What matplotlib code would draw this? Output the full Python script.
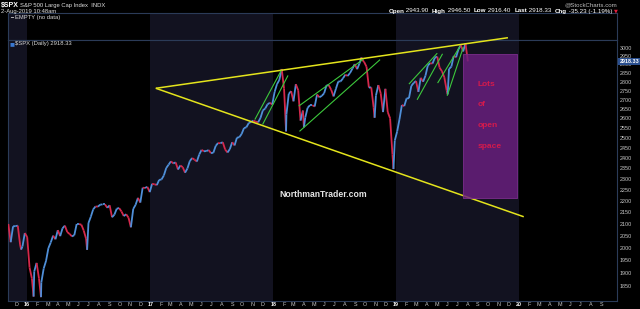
import matplotlib
matplotlib.use("Agg")
import matplotlib.pyplot as plt
import matplotlib.dates as mdates
from matplotlib.collections import LineCollection
from matplotlib.transforms import blended_transform_factory
from matplotlib.ticker import FixedLocator, NullLocator, NullFormatter
import numpy as np
import pandas as pd
import datetime as dt

plt.rcParams['font.family'] = ['Liberation Sans', 'DejaVu Sans']

# ---------------- data ----------------
week_start = "2015-11-06"
week_end = "2019-08-02"
weekly_close = [
    # 2015 (Nov 6 .. Jan 1)
    2099, 2023, 2089, 2090, 2092, 2012, 2006, 2061, 2044,
    # 2016
    1922, 1880, 1907, 1940, 1880, 1865, 1918, 1948, 1999, 2022, 2050, 2035,
    2073, 2048, 2081, 2092, 2065, 2057, 2047, 2052, 2099, 2099, 2096, 2071, 2037,
    2103, 2130, 2162, 2175, 2174, 2183, 2184, 2184, 2169, 2180, 2128, 2139, 2165, 2168,
    2153, 2133, 2141, 2126, 2085, 2164, 2182, 2213, 2192, 2259, 2258, 2263, 2239,
    # 2017
    2277, 2275, 2271, 2295, 2297, 2316, 2351, 2367, 2383, 2373, 2378, 2344, 2363,
    2355, 2329, 2349, 2384, 2399, 2391, 2382, 2416, 2439, 2432, 2433, 2438, 2423,
    2425, 2459, 2473, 2472, 2477, 2441, 2426, 2443, 2477, 2461, 2500, 2502, 2519,
    2549, 2553, 2575, 2581, 2588, 2582, 2579, 2602, 2642, 2652, 2675, 2683, 2674,
    # 2018
    2743, 2786, 2810, 2873, 2762, 2620, 2732, 2747, 2691, 2786, 2752, 2588, 2641,
    2604, 2656, 2670, 2670, 2663, 2728, 2713, 2721, 2735, 2779, 2780, 2755, 2718,
    2760, 2801, 2802, 2819, 2840, 2833, 2850, 2875, 2902, 2872, 2905, 2930, 2914,
    2886, 2767, 2768, 2659, 2723, 2781, 2736, 2633, 2760, 2633, 2600, 2417, 2486,
    # 2019
    2532, 2596, 2671, 2665, 2707, 2708, 2776, 2793, 2804, 2743, 2822, 2800, 2834,
    2893, 2907, 2905, 2940, 2946, 2881, 2860, 2826, 2752, 2873, 2887, 2950, 2942,
    2990, 3014, 2977, 3026, 2918,
]
spike_dates = ["2015-12-14", "2016-01-20", "2016-02-11", "2016-06-27",
               "2018-02-08", "2018-04-02", "2018-09-20", "2018-10-29",
               "2018-12-24", "2019-06-03"]
spike_values = [1993, 1812, 1810, 1992, 2532, 2553, 2941, 2603, 2346, 2729]
last_price = 2918.33

yticks = list(range(1850, 3001, 50))
month_letters = ["J", "F", "M", "A", "M", "J", "J", "A", "S", "O", "N", "D"]
tick_start, tick_end = "2015-12-01", "2020-09-01"
shade_years = [2015, 2017, 2019]

# wedge (yellow): apex, upper end, lower end
wedge_dates = ["2017-01-17", "2019-11-29", "2020-01-15"]
wedge_values = [2763, 3061, 2130]

# green channel lines
chan_start_dates = ["2017-11-08", "2017-12-01", "2018-03-19", "2018-03-21",
                    "2019-02-09", "2019-03-05", "2019-05-05", "2019-06-02"]
chan_start_values = [2596, 2570, 2667, 2534, 2789, 2702, 2795, 2724]
chan_end_dates = ["2018-01-24", "2018-02-13", "2018-09-25", "2018-11-13",
                  "2019-05-02", "2019-05-18", "2019-07-09", "2019-07-19"]
chan_end_values = [2862, 2833, 2930, 2926, 2964, 2960, 3006, 3000]

box_dates = ["2019-07-19", "2019-12-25"]
box_values = [2212, 2962]
note_words = ["Lots", "of", "open", "space"]
note_date = "2019-08-31"
note_values = [2787, 2673, 2563, 2458]
brand_text = "NorthmanTrader.com"
brand_date, brand_value = "2018-05-28", 2227

ohlc_parts = [("Open", "bold"), (" 2943.90  ", "normal"), ("High", "bold"),
              (" 2946.50  ", "normal"), ("Low", "bold"), (" 2916.40  ", "normal"),
              ("Last", "bold"), (" 2918.33  ", "normal"), ("Chg", "bold"),
              (" -35.23 (-1.19%)", "normal")]

# ---------------- figure ----------------
W, H = 640, 309
fig = plt.figure(figsize=(6.4, 3.09), dpi=100, facecolor='black')
def fx(px): return px / W
def fy(py): return 1 - py / H

ax_top = fig.add_axes([fx(8), fy(40.3), fx(617) - fx(8), fy(13.3) - fy(40.3)])
ax = fig.add_axes([fx(8), fy(300.7), fx(617) - fx(8), fy(40.3) - fy(300.7)])
ax.set_zorder(3)
ax_top.set_zorder(1)

frame_col = '#2b3b58'
shade_col = '#121220'
xmin = mdates.date2num(dt.datetime(2015, 11, 5))
xmax = mdates.date2num(dt.datetime(2020, 10, 18))

for a in (ax, ax_top):
    a.set_facecolor('black')
    for s in a.spines.values():
        s.set_color(frame_col)
        s.set_linewidth(0.8)
    for yr in shade_years:
        a.axvspan(mdates.date2num(dt.datetime(yr, 1, 1)),
                  mdates.date2num(dt.datetime(yr + 1, 1, 1)),
                  color=shade_col, zorder=0, lw=0)
    a.set_xlim(xmin, xmax)

ax_top.set_xticks([])
ax_top.set_yticks([])

# price series
weeks = pd.date_range(week_start, week_end, freq="W-FRI")
s = pd.Series(weekly_close, index=weeks, dtype=float)
sp = pd.Series(spike_values, index=pd.to_datetime(spike_dates), dtype=float)
s = pd.concat([s, sp]).sort_index()
xs = mdates.date2num(s.index.to_pydatetime())
ys = s.values
pts = np.column_stack([xs, ys])
segs = np.stack([pts[:-1], pts[1:]], axis=1)
up_col, dn_col = '#4f8fd8', '#d4284c'
cols = [up_col if b >= a_ else dn_col for a_, b in zip(ys[:-1], ys[1:])]
ax.set_yscale('log')
lc = LineCollection(segs, colors=cols, linewidths=1.3, zorder=3)
ax.add_collection(lc)
ax.set_ylim(1797, 3045)

# y axis on right
ax.yaxis.tick_right()
ax.yaxis.set_major_locator(FixedLocator(yticks))
ax.yaxis.set_minor_locator(NullLocator())
ax.yaxis.set_minor_formatter(NullFormatter())
ax.set_yticklabels([str(v) for v in yticks])
ax.tick_params(axis='y', length=0, pad=2, labelsize=3.9, labelcolor='#c8c8c8')

# x ticks
months = pd.date_range(tick_start, tick_end, freq="MS")
xt = mdates.date2num(months.to_pydatetime())
xl = ["%02d" % (m.year % 100) if m.month == 1 else month_letters[m.month - 1] for m in months]
ax.set_xticks(xt)
ax.set_xticklabels(xl)
ax.tick_params(axis='x', length=0, pad=1.0, labelsize=3.9, labelcolor='#c8c8c8')
for lab, m in zip(ax.get_xticklabels(), months):
    if m.month == 1:
        lab.set_fontweight('bold')
        lab.set_color('white')
ax.set_xlim(xmin, xmax)

# wedge lines
wd = mdates.date2num(pd.to_datetime(wedge_dates).to_pydatetime())
yellow = '#e4e41c'
ax.plot([wd[0], wd[1]], [wedge_values[0], wedge_values[1]], color=yellow, lw=1.1,
        zorder=4, clip_on=False, solid_capstyle='butt')
ax.plot([wd[0], wd[2]], [wedge_values[0], wedge_values[2]], color=yellow, lw=1.1,
        zorder=4, clip_on=False, solid_capstyle='butt')

# green channels
csd = mdates.date2num(pd.to_datetime(chan_start_dates).to_pydatetime())
ced = mdates.date2num(pd.to_datetime(chan_end_dates).to_pydatetime())
for x0, v0, x1, v1 in zip(csd, chan_start_values, ced, chan_end_values):
    ax.plot([x0, x1], [v0, v1], color='#3cc83c', lw=0.8, zorder=5, clip_on=False)

# purple box
bd = mdates.date2num(pd.to_datetime(box_dates).to_pydatetime())
ax.fill_between(bd, box_values[0], box_values[1], facecolor=(0.42, 0.12, 0.50, 0.82),
                edgecolor='#7b2d8c', lw=0.6, zorder=6)
nd = mdates.date2num(pd.Timestamp(note_date).to_pydatetime())
for w, v in zip(note_words, note_values):
    ax.text(nd, v, w, color='#d41a4c', fontsize=6.0, fontweight='bold',
            ha='left', va='center', zorder=7)

# brand text
bdx = mdates.date2num(pd.Timestamp(brand_date).to_pydatetime())
ax.text(bdx, brand_value, brand_text, color='#e6e6e6', fontsize=6.2,
        fontweight='bold', ha='center', va='center', zorder=7)

# last price box
trans = blended_transform_factory(ax.transAxes, ax.transData)
ax.text(1.004, last_price, "%.2f" % last_price, transform=trans, fontsize=3.9,
        color='white', fontweight='bold', ha='left', va='center', zorder=10,
        clip_on=False, bbox=dict(boxstyle='square,pad=0.2', fc='#2a4f8f', ec='none'))

# panel legends
ax_top.text(0.003, 0.86, "\u2501", transform=ax_top.transAxes, fontsize=3.5,
            color='#c8c8c8', ha='left', va='center', family=['DejaVu Sans'])
ax_top.text(0.011, 0.86, "EMPTY (no data)", transform=ax_top.transAxes,
            fontsize=4.2, color='#d8d8d8', ha='left', va='center')
ax.text(0.003, 0.988, "\u25a0", transform=ax.transAxes, fontsize=3.8,
        color='#3a78d0', ha='left', va='center', family=['DejaVu Sans'])
ax.text(0.011, 0.988, "$SPX (Daily) 2918.33", transform=ax.transAxes,
        fontsize=4.2, color='#d8d8d8', ha='left', va='center')

# header
fig.text(fx(1), fy(5), "$SPX", fontsize=5.0, fontweight='bold', color='white',
         ha='left', va='center')
fig.text(fx(20), fy(5), "S&P 500 Large Cap Index  INDX", fontsize=4.2,
         color='#e0e0e0', ha='left', va='center')
fig.text(fx(1), fy(11), "2-Aug-2019 10:48am", fontsize=4.2, color='#e0e0e0',
         ha='left', va='center')
fig.text(fx(617), fy(5), "@StockCharts.com", fontsize=4.4, color='#bdbdbd',
         ha='right', va='center')

renderer = fig.canvas.get_renderer()
parts = []
total = 0.0
for txt, weight in ohlc_parts:
    t = fig.text(0, fy(11), txt, fontsize=4.5, fontweight=weight,
                 color='white', ha='left', va='center')
    wpx = t.get_window_extent(renderer).width
    parts.append((t, wpx))
    total += wpx
xpos = 612.5 - total
for t, wpx in parts:
    t.set_x(fx(xpos))
    xpos += wpx
fig.text(fx(xpos + 1.0), fy(11), "\u25bc", fontsize=3.6, color='#e0203c',
         ha='left', va='center', family=['DejaVu Sans'])

fig.savefig("out.png", dpi=100, facecolor='black')
